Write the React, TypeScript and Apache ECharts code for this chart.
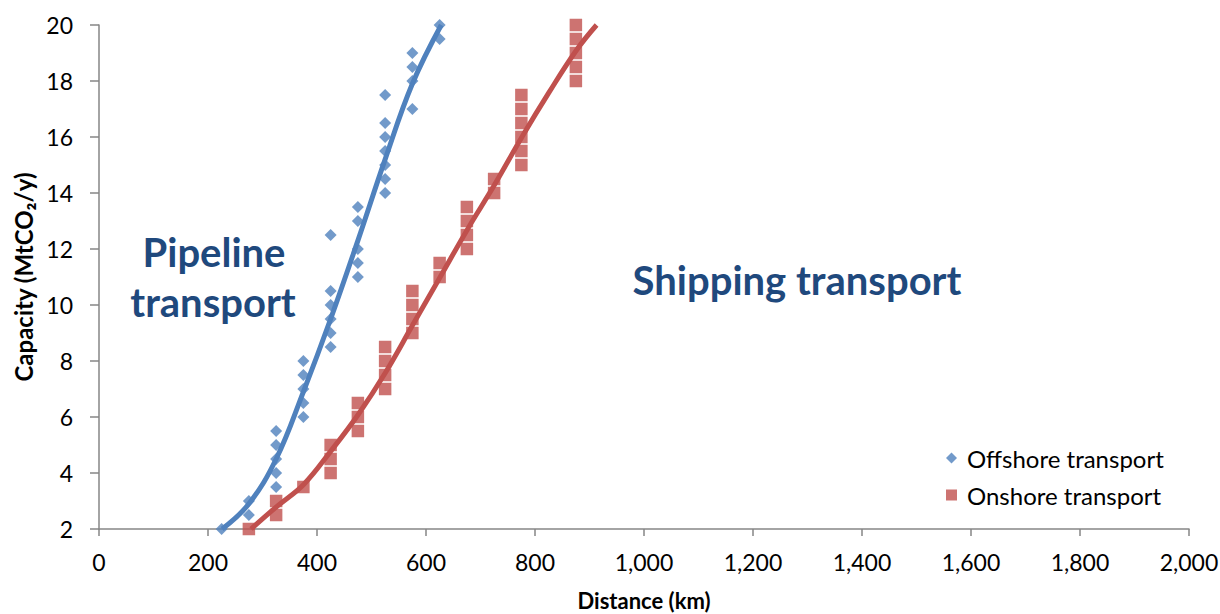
import React, { useEffect, useRef } from "react";
import * as echarts from "echarts";

// Scatter observations: [distance (km), capacity (MtCO2/y)]
const offshorePoints: [number, number][] = [
  [225, 2],
  [275, 2.5], [275, 3],
  [325, 3.5], [325, 4], [325, 4.5], [325, 5], [325, 5.5],
  [375, 6], [375, 6.5], [375, 7], [375, 7.5], [375, 8],
  [425, 8.5], [425, 9], [425, 9.5], [425, 10], [425, 10.5], [425, 12.5],
  [475, 11], [475, 11.5], [475, 12], [475, 13], [475, 13.5],
  [525, 14], [525, 14.5], [525, 15], [525, 15.5], [525, 16], [525, 16.5], [525, 17.5],
  [575, 17], [575, 18], [575, 18.5], [575, 19],
  [625, 19.5], [625, 20],
];

const onshorePoints: [number, number][] = [
  [275, 2],
  [325, 2.5], [325, 3],
  [375, 3.5],
  [425, 4], [425, 4.5], [425, 5],
  [475, 5.5], [475, 6], [475, 6.5],
  [525, 7], [525, 7.5], [525, 8], [525, 8.5],
  [575, 9], [575, 9.5], [575, 10], [575, 10.5],
  [625, 11], [625, 11.5],
  [675, 12], [675, 12.5], [675, 13], [675, 13.5],
  [725, 14], [725, 14.5],
  [775, 15], [775, 15.5], [775, 16], [775, 16.5], [775, 17], [775, 17.5],
  [875, 18], [875, 18.5], [875, 19], [875, 19.5], [875, 20],
];

// Trend lines
const offshoreTrend: [number, number][] = [
  [226, 2.0], [275, 2.9], [325, 4.5], [375, 6.9], [425, 9.5],
  [475, 12.3], [525, 15.2], [575, 17.9], [628, 20.0],
];

const onshoreTrend: [number, number][] = [
  [279, 2.0], [326, 2.8], [376, 3.6], [426, 4.8], [476, 6.1],
  [526, 7.6], [576, 9.3], [626, 11.0], [676, 12.7], [726, 14.3],
  [776, 16.0], [826, 17.6], [876, 19.1], [913, 20.0],
];

const seriesNames = ["Offshore transport", "Onshore transport"];
const regionLabels = ["Pipeline", "transport", "Shipping transport"];

const BLUE = "#4F81BD";
const RED = "#C0504D";
const NAVY = "#1F497D";
const AXIS = "#868686";
const FONT = "Lato, 'Open Sans', sans-serif";

export default function App() {
  const ref = useRef<HTMLDivElement>(null);

  useEffect(() => {
    if (!ref.current) return;
    const chart = echarts.init(ref.current, undefined, { renderer: "svg" });
    chart.setOption({
      animation: false,
      backgroundColor: "#ffffff",
      grid: {
        left: 99,
        right: 31,
        top: 25,
        bottom: 85,
        containLabel: false,
        outerBoundsMode: "none",
      },
      legend: {
        orient: "vertical",
        left: 946,
        top: 446,
        padding: 0,
        itemWidth: 11,
        itemHeight: 11,
        itemGap: 13,
        data: seriesNames,
        textStyle: {
          fontFamily: FONT,
          fontSize: 24,
          color: "#000",
          lineHeight: 24,
          padding: [0, 0, 0, 5],
        },
      },
      xAxis: {
        type: "value",
        min: 0,
        max: 2000,
        interval: 200,
        name: "Distance (km)",
        nameLocation: "middle",
        nameGap: 60,
        nameTextStyle: { fontFamily: FONT, fontSize: 22, fontWeight: "bold", color: "#000" },
        axisLine: { show: true, lineStyle: { color: AXIS, width: 1.5 } },
        axisTick: { show: true, length: 7, lineStyle: { color: AXIS, width: 1.5 } },
        splitLine: { show: false },
        axisLabel: {
          fontFamily: FONT,
          fontSize: 23,
          color: "#000",
          margin: 21,
          formatter: (v: number) => v.toLocaleString("en-US"),
        },
      },
      yAxis: {
        type: "value",
        min: 2,
        max: 20,
        interval: 2,
        name: "Capacity (MtCO₂/y)",
        nameLocation: "middle",
        nameGap: 64,
        nameRotate: 90,
        nameTextStyle: { fontFamily: FONT, fontSize: 24, fontWeight: "bold", color: "#000" },
        axisLine: { show: true, lineStyle: { color: AXIS, width: 1.5 } },
        axisTick: { show: true, length: 9, lineStyle: { color: AXIS, width: 1.5 } },
        splitLine: { show: false },
        axisLabel: { fontFamily: FONT, fontSize: 23, color: "#000", margin: 26 },
      },
      series: [
        {
          name: seriesNames[0],
          type: "scatter",
          symbol: "diamond",
          symbolSize: 12,
          itemStyle: { color: BLUE },
          data: offshorePoints,
          z: 2,
        },
        {
          name: seriesNames[1],
          type: "scatter",
          symbol: "rect",
          symbolSize: 12.5,
          itemStyle: { color: RED },
          data: onshorePoints,
          z: 2,
        },
        {
          name: "Offshore trend",
          type: "line",
          data: offshoreTrend,
          smooth: 0.4,
          showSymbol: false,
          symbol: "none",
          lineStyle: { color: BLUE, width: 5 },
          silent: true,
          z: 3,
        },
        {
          name: "Onshore trend",
          type: "line",
          data: onshoreTrend,
          smooth: 0.4,
          showSymbol: false,
          symbol: "none",
          lineStyle: { color: RED, width: 5 },
          silent: true,
          z: 3,
        },
      ],
      graphic: [
        {
          type: "text",
          x: 214,
          y: 252,
          style: {
            text: regionLabels[0],
            fill: NAVY,
            font: `bold 40px ${FONT}`,
            textAlign: "center",
            textVerticalAlign: "middle",
          },
        },
        {
          type: "text",
          x: 213,
          y: 302,
          style: {
            text: regionLabels[1],
            fill: NAVY,
            font: `bold 40px ${FONT}`,
            textAlign: "center",
            textVerticalAlign: "middle",
          },
        },
        {
          type: "text",
          x: 797,
          y: 280,
          style: {
            text: regionLabels[2],
            fill: NAVY,
            font: `bold 40px ${FONT}`,
            textAlign: "center",
            textVerticalAlign: "middle",
          },
        },
      ],
    });
    return () => chart.dispose();
  }, []);

  return (
    <div
      ref={ref}
      style={{ position: "fixed", left: 0, top: 0, width: 1220, height: 614, background: "#fff" }}
    />
  );
}
